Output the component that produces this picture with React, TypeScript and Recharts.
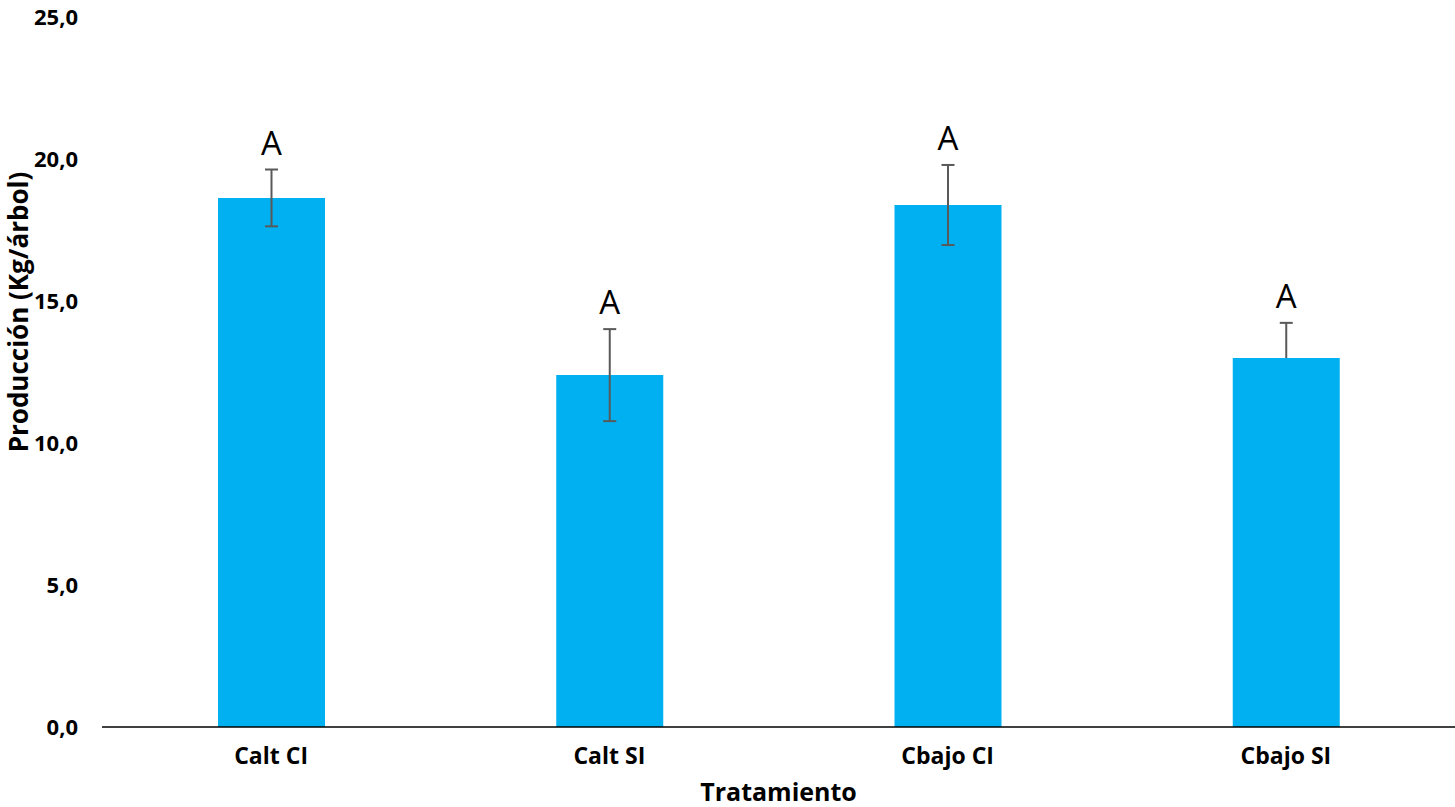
import React from 'react';
import { BarChart, Bar, XAxis, YAxis, LabelList } from 'recharts';

const categories = ['Calt CI', 'Calt SI', 'Cbajo CI', 'Cbajo SI'];
const means = [18.63, 12.39, 18.38, 12.99];
const errLow = [1.0, 1.62, 1.41, 0];
const errHigh = [1.0, 1.62, 1.41, 1.24];
const letters = ['A', 'A', 'A', 'A'];
const yTicks = [0, 5, 10, 15, 20, 25];

const data = categories.map((name, i) => ({
  name,
  value: means[i],
  lo: errLow[i],
  hi: errHigh[i],
  letter: letters[i],
}));

const FONT = '"Open Sans", Lato, sans-serif';
const ERR = '#595959';

// error whisker + significance letter, scaled off the bar's own geometry
const BarExtras = (props: any) => {
  const { x, y, width, height, index } = props;
  const d = data[index];
  const ppu = height / d.value;
  const cx = x + width / 2;
  const top = y - d.hi * ppu;
  const bottom = y + d.lo * ppu;
  return (
    <g>
      <line x1={cx} x2={cx} y1={top} y2={bottom} stroke={ERR} strokeWidth={2} />
      <line x1={cx - 6.5} x2={cx + 6.5} y1={top} y2={top} stroke={ERR} strokeWidth={2} />
      {d.lo > 0 && <line x1={cx - 6.5} x2={cx + 6.5} y1={bottom} y2={bottom} stroke={ERR} strokeWidth={2} />}
      <text x={cx} y={top - 15} textAnchor="middle" fontSize={33} fontFamily={FONT} fill="#000">
        {d.letter}
      </text>
    </g>
  );
};

const YTitle = (props: any) => {
  const { viewBox } = props;
  const cy = viewBox.y + viewBox.height / 2 - 60;
  return (
    <text
      x={18}
      y={cy}
      transform={`rotate(-90, 18, ${cy})`}
      textAnchor="middle"
      dominantBaseline="central"
      fontSize={26}
      fontWeight={700}
      fontFamily={FONT}
      fill="#000"
    >
      Producción (Kg/árbol)
    </text>
  );
};

const XTitle = (props: any) => {
  const { viewBox } = props;
  return (
    <text
      x={viewBox.x + viewBox.width / 2}
      y={801}
      textAnchor="middle"
      fontSize={25}
      fontWeight={700}
      fontFamily={FONT}
      fill="#000"
    >
      Tratamiento
    </text>
  );
};

export default function App() {
  return (
    <div style={{ position: 'absolute', left: 0, top: 0, background: '#fff' }}>
      <BarChart width={1455} height={807} data={data} margin={{ top: 17, right: 0, left: 0, bottom: 0 }}>
        <XAxis
          dataKey="name"
          height={80}
          tickLine={false}
          tickMargin={15}
          axisLine={{ stroke: '#000', strokeWidth: 1.5 }}
          tick={{ fontSize: 23, fontWeight: 700, fill: '#000', fontFamily: FONT }}
          label={<XTitle />}
        />
        <YAxis
          width={102}
          domain={[0, 25]}
          ticks={yTicks}
          axisLine={false}
          tickLine={false}
          tickMargin={18}
          tickFormatter={(v: number) => v.toFixed(1).replace('.', ',')}
          tick={{ fontSize: 22, fontWeight: 700, fill: '#000', fontFamily: FONT }}
          label={<YTitle />}
        />
        <Bar dataKey="value" fill="#00B0F0" barSize={107} isAnimationActive={false}>
          <LabelList dataKey="value" content={<BarExtras />} />
        </Bar>
      </BarChart>
    </div>
  );
}
